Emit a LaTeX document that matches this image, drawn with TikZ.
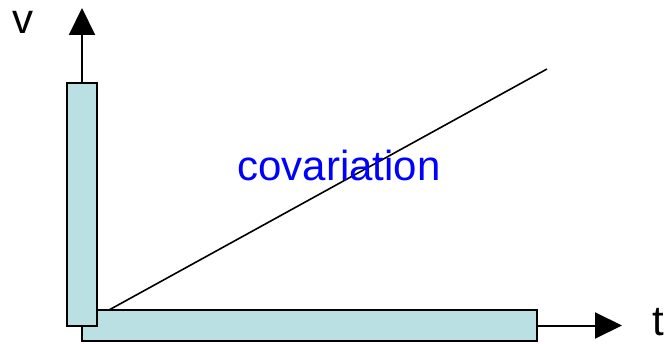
\documentclass[tikz,border=0pt]{standalone}
\usepackage{fontspec}
\setmainfont{Liberation Sans}
\usepackage{tikz}
\usetikzlibrary{arrows.meta, positioning}
\definecolor{barfill}{RGB}{187,224,227}
\definecolor{textblue}{RGB}{0,0,255}
\tikzset{
  bar/.style={draw=black, fill=barfill, line width=2pt, inner sep=0pt},
  axis/.style={->, line width=2pt},
  lbl/.style={anchor=base, inner sep=0pt, font=\fontsize{42}{46}\selectfont}
}

\begin{document}
\begin{tikzpicture}[x=1pt, y=-1pt, >={Triangle[length=27pt, width=26pt]}]
    \useasboundingbox (0,0) rectangle (671,344);

    % the two bars
    \node[bar, minimum width=455pt, minimum height=31pt] (hbar) at (309.5,325.5) {};
    \node[bar, minimum width=30pt, minimum height=243pt] (vbar) at (82,204.5) {};

    % axes
    \coordinate (vtip) at (82,8);
    \coordinate (htip) at (622,325.5);
    \draw[axis] (vbar.north) -- (vtip);
    \draw[axis] (hbar.east) -- (htip);

    % diagonal
    \coordinate (diagstart) at (109,310);
    \coordinate (diagend) at (547,69);
    \draw[line width=1.6pt] (diagstart) -- (diagend);

    \node[lbl] (vlabel) at (23,34) {v};
    \node[lbl] (tlabel) at (658,335) {t};
    \node[lbl, text=textblue] (covlabel) at (339,181) {covariation};
  \end{tikzpicture}
\end{document}
